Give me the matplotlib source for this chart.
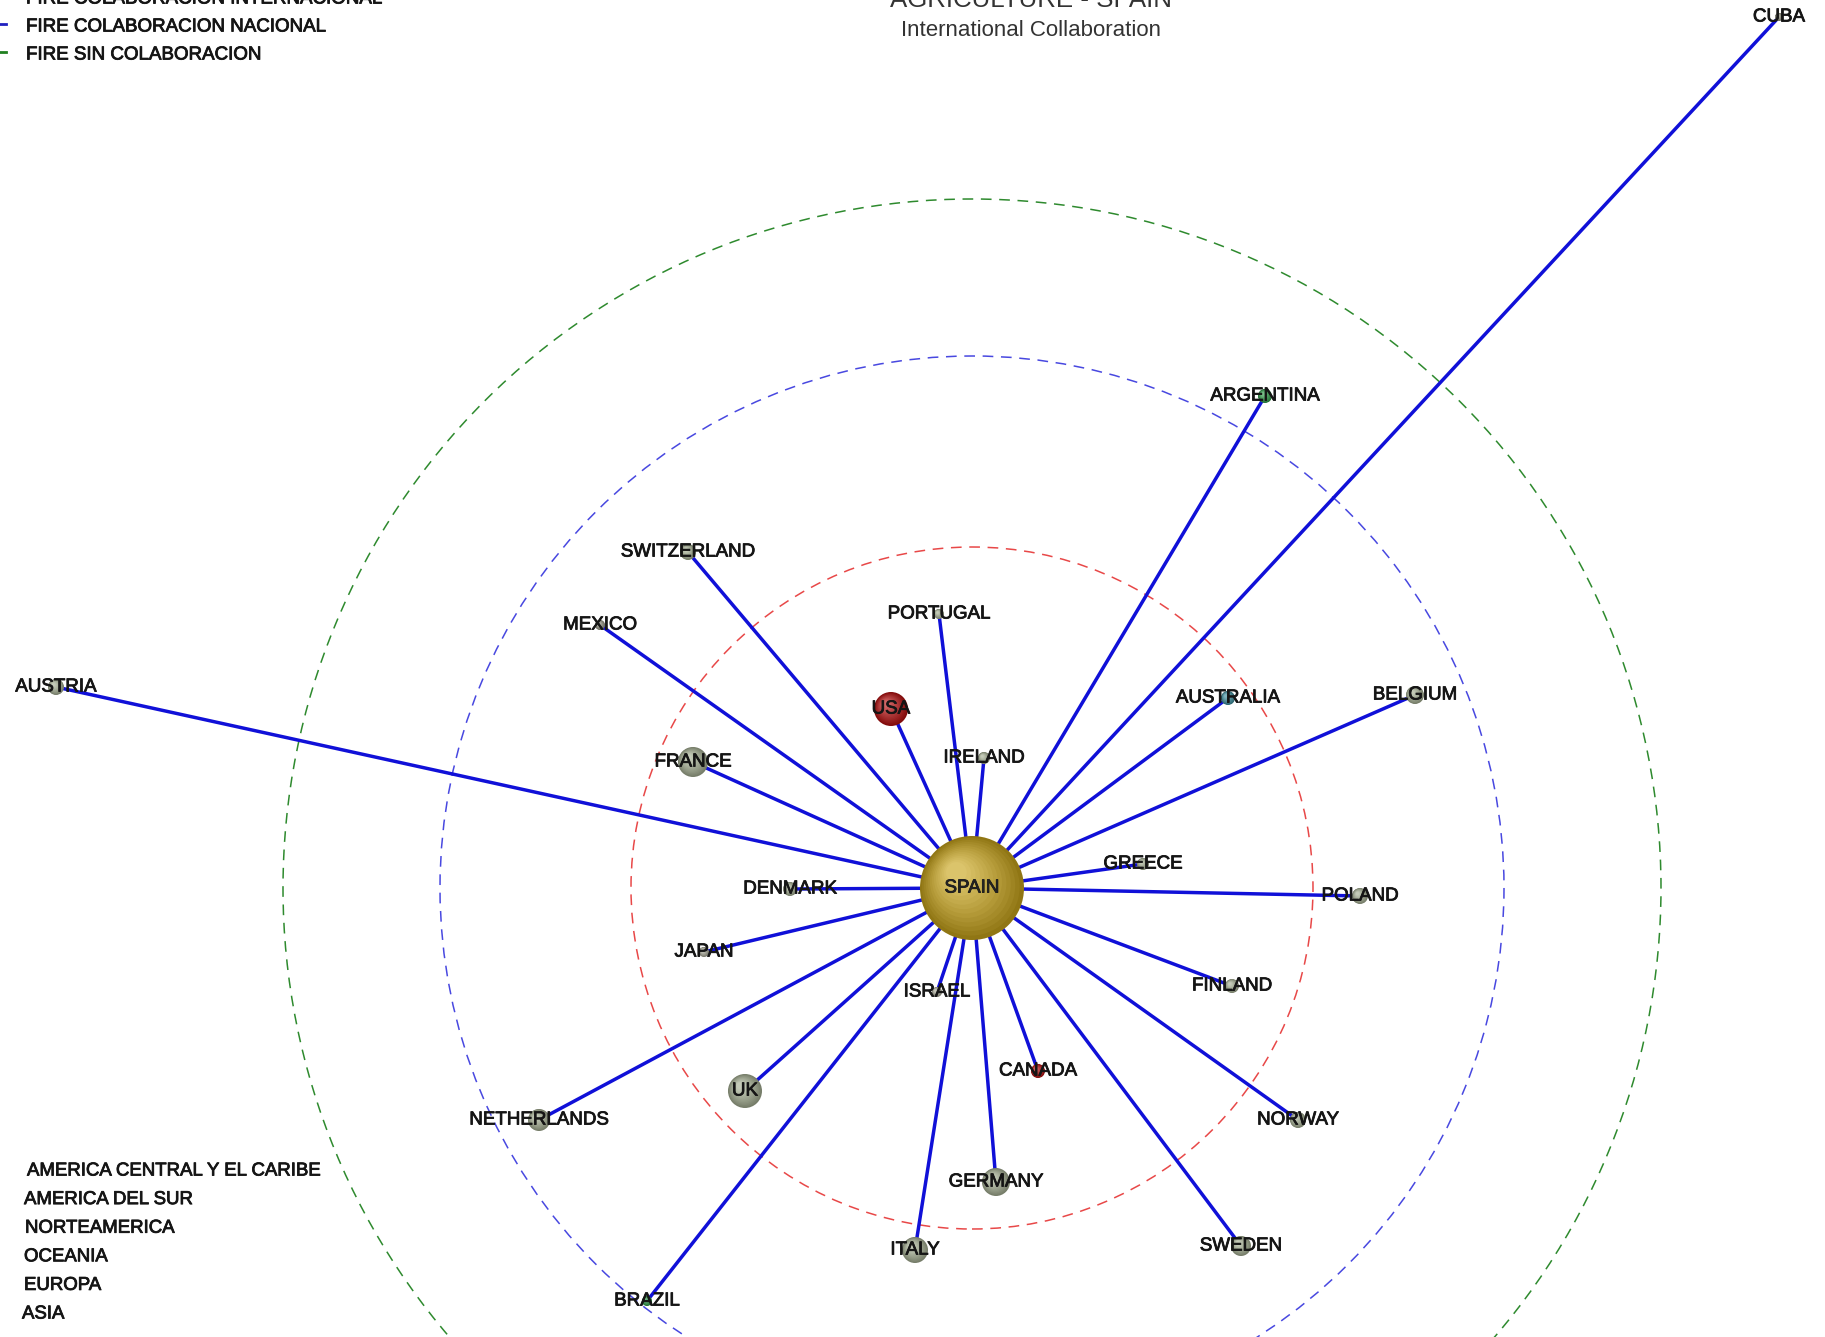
import numpy as np
import matplotlib
matplotlib.use("Agg")
import matplotlib.pyplot as plt
import matplotlib.colors as mcolors
import matplotlib.patheffects as pe
from matplotlib.patches import Circle

plt.rcParams['font.family'] = ['Liberation Sans', 'DejaVu Sans']

# network layout: offsets from SPAIN (px, y up), node radius, region
countries = ['CUBA', 'ARGENTINA', 'SWITZERLAND', 'MEXICO', 'PORTUGAL', 'USA',
             'AUSTRIA', 'AUSTRALIA', 'BELGIUM', 'FRANCE', 'IRELAND', 'GREECE',
             'DENMARK', 'POLAND', 'JAPAN', 'ISRAEL', 'FINLAND', 'CANADA', 'UK',
             'NETHERLANDS', 'NORWAY', 'GERMANY', 'ITALY', 'SWEDEN', 'BRAZIL']
node_x = [807, 293, -284, -372, -33, -81, -916, 256, 443, -279, 12, 171,
          -182, 388, -268, -35, 260, 66, -227, -433, 326, 24, -57, 269, -325]
node_y = [871, 492, 336, 263, 274, 179, 201, 190, 193, 126, 130, 24,
          -1, -8, -64, -104, -98, -183, -203, -232, -232, -294, -362, -358, -413]
node_r = [4, 7, 8, 5, 5, 17, 8, 7, 9, 15, 6, 6,
          7, 8, 5, 5, 7, 7, 17, 11, 8, 14, 13, 10, 5]
region = ['CAR', 'SUR', 'EUR', 'CAR', 'EUR', 'NOR', 'EUR', 'OCE', 'EUR', 'EUR',
          'EUR', 'EUR', 'EUR', 'EUR', 'ASI', 'ASI', 'EUR', 'NOR', 'EUR', 'EUR',
          'EUR', 'EUR', 'EUR', 'EUR', 'SUR']
region_color = {'CAR': '#949484', 'SUR': '#2f9a48', 'NOR': '#b41010',
                'OCE': '#3c8c9c', 'EUR': '#a4ae92', 'ASI': '#a8a898'}

ring_r = [341, 532, 689]
ring_color = ['#e84848', '#4848e0', '#2e8a2e']

legend_top = ['FIRE COLABORACION INTERNACIONAL', 'FIRE COLABORACION NACIONAL',
              'FIRE SIN COLABORACION']
legend_top_color = ['#d02020', '#2020c0', '#208020']
regions_list = ['AMERICA CENTRAL Y EL CARIBE', 'AMERICA DEL SUR', 'NORTEAMERICA',
                'OCEANIA', 'EUROPA', 'ASIA']

W, H = 1825, 1337
CX, CY = 972, 888
thick = [pe.withStroke(linewidth=0.6, foreground='#151515')]


def px(x, y):
    return x - CX, CY - y


def ball(ax, x, y, r, color, z):
    base = np.array(mcolors.to_rgb(color))
    for f in np.linspace(0, 1, 14):
        rr = r * (1 - 0.8 * f)
        off = r * 0.3 * f
        c = base * (0.72 + 0.28 * f) * (1 - 0.35 * f) + 0.35 * f
        ax.add_patch(Circle((x - off, y + off), rr, color=np.clip(c, 0, 1),
                            zorder=z, lw=0))


fig = plt.figure(figsize=(W / 100, H / 100), dpi=100)
ax = fig.add_axes([0, 0, 1, 1])
ax.set_xlim(-CX, W - CX)
ax.set_ylim(CY - H, CY)
ax.set_aspect('equal')
ax.axis('off')

for r, c in zip(ring_r, ring_color):
    ax.add_patch(Circle((0, 0), r, fill=False, ec=c, lw=1.1,
                        ls=(0, (7, 5)), zorder=1))

for x, y in zip(node_x, node_y):
    ax.plot([0, x], [0, y], color='#1010d8', lw=2.5, zorder=2,
            solid_capstyle='round')

for name, x, y, r, reg in zip(countries, node_x, node_y, node_r, region):
    ball(ax, x, y, r, region_color[reg], 3)
    ax.text(x, y, name, fontsize=13.5, color='#151515', ha='center',
            va='center', zorder=5, path_effects=thick)

ball(ax, 0, 0, 52, '#c8a41c', 4)
ax.text(0, 0, 'SPAIN', fontsize=13.5, color='#222', ha='center',
        va='center', zorder=6, path_effects=thick)

# titles
ax.text(*px(1031, 7), 'AGRICULTURE - SPAIN', fontsize=18.6, color='#333',
        ha='center', va='baseline')
ax.text(*px(1031, 31), 'International Collaboration', fontsize=16,
        color='#333', ha='center', va='center')

# top-left legend
for i, (t, c) in enumerate(zip(legend_top, legend_top_color)):
    yy = -1 + 28 * i
    ax.plot(*zip(px(0, yy - 3), px(6, yy - 3)), color=c, lw=2)
    ax.text(*px(26, yy), t, fontsize=13.5, color='#151515', ha='left',
            va='center', path_effects=thick)

# bottom-left region list
lefts = [27, 24, 25, 24, 24, 22]
for i, t in enumerate(regions_list):
    ax.text(*px(lefts[i], 1171 + 28.6 * i), t, fontsize=13.4, color='#151515',
            ha='left', va='center', path_effects=thick)

fig.savefig('out.png', dpi=100, facecolor='white')
